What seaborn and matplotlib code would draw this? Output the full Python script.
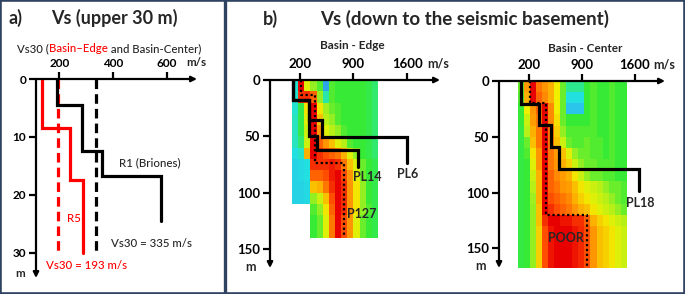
import numpy as np
import matplotlib
matplotlib.use("Agg")
import matplotlib.pyplot as plt
import seaborn as sns
from matplotlib.colors import LinearSegmentedColormap
from matplotlib.patches import Rectangle
from matplotlib.transforms import IdentityTransform

# ---- panel a: Vs in the upper 30 m ----
R1_VS = [191, 284, 359, 578]
R1_BASE = [4.5, 12.5, 16.8, 24.5]
R5_VS = [135, 239, 288]
R5_BASE = [8.5, 17.5, 30]
VS30_CENTER = 335
VS30_EDGE = 193
A_VEL_TICKS = [200, 400, 600]
A_DEPTH_TICKS = [0, 10, 20, 30]

# ---- panel b: Vs down to the seismic basement ----
B_VEL_TICKS = [200, 900, 1600]
B_DEPTH_TICKS = [0, 50, 100, 150]

PL6_VS = [118, 327, 496, 1593]
PL6_BASE = [17.7, 35.5, 50.3, 74]
PL14_VS = [118, 327, 431, 964]
PL14_BASE = [17.7, 50, 62, 77]
P127_VS = [215, 401, 782]
P127_BASE = [13.3, 74, 139]

PL18_VS = [93, 336, 487, 601, 1660]
PL18_BASE = [20.6, 39.5, 59.5, 79, 99]
POOR_VS = [213, 425, 964]
POOR_BASE = [19.5, 120, 170]

# model-density images behind the profiles (0 = low, 1 = high, nan = empty)
EDGE_VEL_BINS = [100, 180, 260, 340, 420, 500, 580, 660, 740, 820, 900, 980, 1060, 1140, 1220]
EDGE_DEPTH_BINS = [0, 10, 20, 30, 40, 50, 60, 70, 80, 90, 100, 110, 120, 130, 140]
nan = np.nan
EDGE_DENSITY = [
    [0.33, 1.00, 0.72, 0.65, 0.60, 0.12, 0.60, 0.58, 0.58, 0.58, 0.58, 0.58, 0.55, 0.50],
    [0.33, 0.95, 0.95, 0.90, 0.65, 0.40, 0.60, 0.58, 0.58, 0.58, 0.58, 0.58, 0.55, 0.50],
    [0.33, 0.55, 0.75, 1.00, 0.75, 0.66, 0.62, 0.60, 0.58, 0.58, 0.58, 0.58, 0.55, 0.50],
    [0.36, 0.55, 0.72, 1.00, 0.80, 0.68, 0.65, 0.60, 0.58, 0.58, 0.58, 0.58, 0.55, 0.50],
    [0.36, 0.55, 0.70, 1.00, 0.85, 0.72, 0.68, 0.65, 0.60, 0.58, 0.58, 0.58, 0.55, 0.50],
    [0.36, 0.50, 0.70, 1.00, 0.90, 0.85, 0.80, 0.72, 0.68, 0.60, 0.58, 0.58, 0.55, 0.50],
    [0.30, 0.35, 0.82, 1.00, 0.95, 0.92, 0.90, 0.88, 0.82, 0.72, 0.65, 0.58, 0.55, 0.50],
    [0.25, 0.28, 0.30, 0.95, 0.95, 0.95, 0.97, 0.95, 0.88, 0.80, 0.72, 0.62, 0.58, 0.55],
    [0.25, 0.28, 0.30, 0.90, 0.90, 0.92, 0.97, 1.00, 0.92, 0.85, 0.72, 0.62, 0.58, 0.55],
    [0.25, 0.25, 0.28, 0.80, 0.82, 0.88, 0.95, 1.00, 0.95, 0.85, 0.75, 0.65, 0.58, 0.55],
    [0.25, 0.25, 0.28, 0.65, 0.70, 0.80, 0.92, 1.00, 0.95, 0.85, 0.75, 0.65, 0.58, 0.55],
    [nan, nan, nan, 0.60, 0.65, 0.75, 0.90, 1.00, 0.95, 0.85, 0.75, 0.65, 0.60, 0.55],
    [nan, nan, nan, 0.58, 0.62, 0.72, 0.88, 1.00, 0.92, 0.85, 0.72, 0.62, 0.58, 0.55],
    [nan, nan, nan, 0.58, 0.62, 0.72, 0.88, 1.00, 0.92, 0.85, 0.72, 0.62, 0.58, 0.55],
]

CENTER_VEL_BINS = [54, 134, 214, 294, 374, 454, 534, 614, 694, 774, 854, 934, 1014, 1094, 1174, 1254, 1334, 1414, 1494]
CENTER_DEPTH_BINS = [0, 10, 20, 30, 40, 50, 60, 70, 80, 90, 100, 110, 120, 130, 140, 150, 160, 170]
CENTER_DENSITY = [
    [0.62, 0.84, 1.00, 0.88, 0.85, 0.82, 0.74, 0.62, 0.45, 0.45, 0.45, 0.58, 0.60, 0.58, 0.58, 0.60, 0.58, 0.58],
    [0.60, 0.82, 1.00, 0.90, 0.86, 0.82, 0.74, 0.62, 0.30, 0.30, 0.30, 0.58, 0.60, 0.58, 0.58, 0.60, 0.58, 0.58],
    [0.58, 0.74, 0.85, 0.90, 1.00, 0.86, 0.74, 0.62, 0.20, 0.20, 0.20, 0.58, 0.60, 0.58, 0.58, 0.60, 0.58, 0.58],
    [0.58, 0.70, 0.84, 0.88, 1.00, 0.86, 0.76, 0.62, 0.58, 0.58, 0.58, 0.58, 0.60, 0.58, 0.58, 0.60, 0.58, 0.58],
    [0.56, 0.68, 0.82, 0.88, 1.00, 0.88, 0.78, 0.65, 0.60, 0.60, 0.60, 0.60, 0.60, 0.58, 0.58, 0.60, 0.58, 0.58],
    [0.56, 0.62, 0.80, 0.88, 1.00, 0.88, 0.80, 0.70, 0.62, 0.60, 0.60, 0.62, 0.60, 0.60, 0.58, 0.60, 0.58, 0.58],
    [0.56, 0.60, 0.75, 0.85, 1.00, 0.88, 0.84, 0.80, 0.72, 0.65, 0.62, 0.62, 0.60, 0.60, 0.58, 0.60, 0.58, 0.58],
    [0.56, 0.58, 0.72, 0.85, 1.00, 0.88, 0.85, 0.82, 0.78, 0.70, 0.65, 0.62, 0.62, 0.60, 0.60, 0.60, 0.58, 0.58],
    [0.56, 0.58, 0.70, 0.82, 1.00, 0.90, 0.86, 0.84, 0.82, 0.75, 0.70, 0.65, 0.62, 0.62, 0.60, 0.60, 0.58, 0.58],
    [0.56, 0.58, 0.68, 0.82, 1.00, 0.90, 0.88, 0.85, 0.84, 0.80, 0.75, 0.72, 0.70, 0.68, 0.65, 0.62, 0.62, 0.60],
    [0.56, 0.58, 0.66, 0.82, 1.00, 0.92, 0.90, 0.88, 0.86, 0.82, 0.78, 0.75, 0.72, 0.70, 0.68, 0.65, 0.62, 0.60],
    [0.56, 0.58, 0.65, 0.80, 1.00, 0.95, 0.92, 0.90, 0.88, 0.85, 0.82, 0.80, 0.75, 0.72, 0.70, 0.68, 0.65, 0.62],
    [0.56, 0.58, 0.65, 0.80, 0.95, 1.00, 1.00, 0.98, 0.98, 0.95, 0.95, 0.90, 0.82, 0.78, 0.75, 0.72, 0.70, 0.68],
    [0.56, 0.58, 0.65, 0.78, 0.92, 0.98, 1.00, 1.00, 1.00, 0.98, 0.96, 0.92, 0.85, 0.80, 0.78, 0.75, 0.72, 0.70],
    [0.56, 0.58, 0.65, 0.78, 0.92, 0.98, 1.00, 1.00, 1.00, 0.98, 0.96, 0.92, 0.85, 0.80, 0.78, 0.75, 0.72, 0.70],
    [0.56, 0.58, 0.65, 0.78, 0.92, 0.98, 1.00, 1.00, 1.00, 0.98, 0.96, 0.92, 0.85, 0.80, 0.78, 0.75, 0.72, 0.70],
    [0.56, 0.58, 0.65, 0.78, 0.92, 0.98, 1.00, 1.00, 1.00, 0.98, 0.96, 0.92, 0.85, 0.80, 0.78, 0.75, 0.72, 0.70],
]

W, H = 685, 294
RED = "#ff0000"
FRAME = "#2e4361"

sns.set_theme(style="white")
plt.rcParams["font.family"] = ["Lato", "DejaVu Sans"]

density_cmap = LinearSegmentedColormap.from_list("density", [
    (0.00, "#1f5fd0"), (0.15, "#2fb8f0"), (0.30, "#22e0e0"), (0.45, "#2ee890"),
    (0.58, "#36ea36"), (0.66, "#a0f020"), (0.74, "#f0f000"), (0.84, "#ffa000"),
    (0.92, "#ff5000"), (1.00, "#e80000")])


def px_axes(fig, left, top, right, bottom):
    # add axes from pixel box of the 685x294 picture
    return fig.add_axes([left / W, 1 - bottom / H, (right - left) / W, (bottom - top) / H])


def fig_text(fig, x, y, s, **kw):
    return fig.text(x / W, 1 - y / H, s, **kw)


def steps(vels, bases):
    # turn layer velocities + layer bottoms into a step profile
    xs, ys, top = [], [], 0
    for v, b in zip(vels, bases):
        xs += [v, v]
        ys += [top, b]
        top = b
    return xs, ys


def profile(ax, vels, bases, color="black", lw=2.3, ls="-"):
    xs, ys = steps(vels, bases)
    sns.lineplot(x=xs, y=ys, sort=False, estimator=None, ax=ax, color=color,
                 lw=lw, linestyle=ls, solid_joinstyle="miter")


def arrow_axes(ax, xlim, ylim, xticks, yticks, fs):
    ax.set_xlim(*xlim)
    ax.set_ylim(*ylim)
    ax.xaxis.tick_top()
    ax.set_xticks(xticks)
    ax.set_yticks(yticks)
    ax.tick_params(axis="both", direction="out", length=5, width=1.6, pad=2,
                   labelsize=fs, colors="black", left=True, top=True)
    for lab in ax.get_xticklabels() + ax.get_yticklabels():
        lab.set_fontweight("bold")
    for s in ax.spines.values():
        s.set_visible(False)
    ax.set_facecolor("none")
    ax.grid(False)
    ap = dict(arrowstyle="-|>", lw=1.6, color="black", mutation_scale=8, shrinkA=0, shrinkB=0)
    ax.annotate("", xy=(1, 1), xytext=(0, 1), xycoords="axes fraction", arrowprops=ap)
    ax.annotate("", xy=(0, 0), xytext=(0, 1), xycoords="axes fraction", arrowprops=ap)
    ax.set_xlabel("")
    ax.set_ylabel("")


fig = plt.figure(figsize=(W / 100, H / 100), dpi=100)

# frames
fig.patches.append(Rectangle((0, 0), 1, 1, transform=fig.transFigure, fill=False,
                             ec=FRAME, lw=2.6, zorder=10))
fig.lines.append(plt.Line2D([224.5 / W, 224.5 / W], [0, 1], transform=fig.transFigure,
                            color=FRAME, lw=2.4))

# ---------- panel a ----------
ax_a = px_axes(fig, 36, 79, 197, 278)
profile(ax_a, R5_VS, R5_BASE, color=RED)
profile(ax_a, [VS30_EDGE], [30], color=RED, ls=(0, (3, 1.6)))
profile(ax_a, [VS30_CENTER], [30], color="black", ls=(0, (3, 1.6)))
profile(ax_a, R1_VS, R1_BASE)
arrow_axes(ax_a, (113, 712), (34.4, 0), A_VEL_TICKS, A_DEPTH_TICKS, 8.5)

lab_kw = dict(fontsize=8.3, fontweight="medium", ha="center", va="center")
ax_a.text(535, 14.5, "R1 (Briones)", **lab_kw)
ax_a.text(254, 24.2, "R5", color=RED, **lab_kw)
ax_a.text(541, 28.4, "Vs30 = 335 m/s", **lab_kw)
ax_a.text(301, 32.2, "Vs30 = 193 m/s", color=RED, clip_on=False, **lab_kw)
ax_a.text(709, -2.8, "m/s", fontsize=8.3, fontweight="bold", ha="center", va="center")
ax_a.text(53, 33.6, "m", fontsize=8.3, fontweight="bold", ha="center", va="center")

fig_text(fig, 16, 18, "a)", fontsize=13, fontweight="bold", ha="center", va="center")
fig_text(fig, 114, 18, "Vs (upper 30 m)", fontsize=13, fontweight="bold", ha="center", va="center")

# subtitle with the red "Basin-Edge" part, pieces chained left to right
sub_kw = dict(fontsize=8.2, fontweight="medium", ha="left", va="baseline")
t1 = fig_text(fig, 17, 52, "Vs30 (", **sub_kw)
fig.canvas.draw()
bb = t1.get_window_extent()
base_y = fig.transFigure.transform(t1.get_position())[1]
t2 = fig.text(bb.x1, base_y, "Basin\u2013Edge", color=RED, transform=IdentityTransform(), **sub_kw)
fig.canvas.draw()
bb2 = t2.get_window_extent()
fig.text(bb2.x1, base_y, " and Basin-Center)", transform=IdentityTransform(), **sub_kw)

# ---------- panel b: basin edge ----------
ax_e = px_axes(fig, 270, 80, 440, 268)
ax_e.pcolormesh(EDGE_VEL_BINS, EDGE_DEPTH_BINS, np.ma.masked_invalid(np.array(EDGE_DENSITY)),
                cmap=density_cmap, vmin=0, vmax=1, shading="flat", zorder=0)
profile(ax_e, PL6_VS, PL6_BASE)
profile(ax_e, PL14_VS, PL14_BASE)
profile(ax_e, P127_VS, P127_BASE, lw=1.6, ls=(0, (1, 1.2)))
arrow_axes(ax_e, (-185, 2026), (166.8, 0), B_VEL_TICKS, B_DEPTH_TICKS, 9.5)
pl_kw = dict(fontsize=9, fontweight="bold", ha="center", va="center")
ax_e.text(1077, 86, "PL14", **pl_kw)
ax_e.text(1610, 83.4, "PL6", **pl_kw)
ax_e.text(1012, 119, "P127", **pl_kw)
ax_e.text(2000, -15, "m/s", clip_on=False, **pl_kw)
fig_text(fig, 250, 267, "m", **pl_kw)
fig_text(fig, 352, 45, "Basin - Edge", fontsize=8.5, fontweight="bold", ha="center", va="center")

# ---------- panel b: basin center ----------
ax_c = px_axes(fig, 499, 81, 665, 268)
ax_c.pcolormesh(CENTER_VEL_BINS, CENTER_DEPTH_BINS, np.array(CENTER_DENSITY),
                cmap=density_cmap, vmin=0, vmax=1, shading="flat", zorder=0)
profile(ax_c, PL18_VS, PL18_BASE)
profile(ax_c, POOR_VS, POOR_BASE, lw=1.6, ls=(0, (1, 1.2)))
arrow_axes(ax_c, (-198, 2001), (167.7, 0), B_VEL_TICKS, B_DEPTH_TICKS, 9.5)
ax_c.text(1670, 109.4, "PL18", **pl_kw)
ax_c.text(689, 140.8, "POOR", **pl_kw)
ax_c.text(1990, -15, "m/s", clip_on=False, **pl_kw)
fig_text(fig, 480, 266, "m", **pl_kw)
fig_text(fig, 585, 48, "Basin - Center", fontsize=8.5, fontweight="bold", ha="center", va="center")

fig_text(fig, 270, 19, "b)", fontsize=13, fontweight="bold", ha="center", va="center")
fig_text(fig, 465, 19, "Vs (down to the seismic basement)", fontsize=13.5, fontweight="bold",
         ha="center", va="center")

fig.savefig("out.png", dpi=100)
